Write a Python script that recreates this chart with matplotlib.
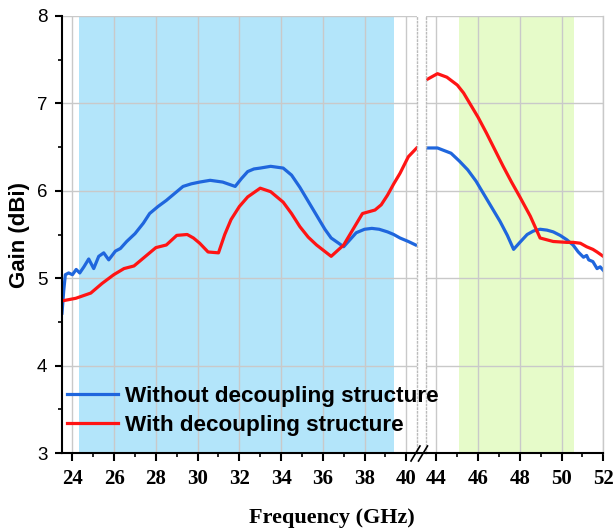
import matplotlib.pyplot as plt
from matplotlib.lines import Line2D
from matplotlib.ticker import MultipleLocator

# gain (dBi) vs frequency (GHz), split at the axis break
f_blue_lo = [23.5, 23.58, 23.66, 23.82, 24.0, 24.18, 24.35, 24.55, 24.78, 25.02, 25.26, 25.5,
             25.74, 26.06, 26.3, 26.6, 27.0, 27.4, 27.7, 28.1, 28.5, 28.9, 29.3, 29.7, 30.1,
             30.6, 31.2, 31.8, 32.1, 32.4, 32.7, 33.0, 33.5, 34.1, 34.5, 34.9, 35.3, 35.7,
             36.1, 36.4, 36.7, 37.0, 37.3, 37.6, 38.0, 38.35, 38.7, 39.1, 39.4, 39.7, 40.1, 40.45]
g_blue_lo = [4.6, 4.85, 5.04, 5.06, 5.04, 5.10, 5.06, 5.13, 5.22, 5.11, 5.25, 5.29,
             5.21, 5.31, 5.34, 5.42, 5.51, 5.63, 5.74, 5.82, 5.89, 5.97, 6.05, 6.08, 6.1,
             6.12, 6.1, 6.05, 6.14, 6.22, 6.25, 6.26, 6.28, 6.26, 6.18, 6.04, 5.88, 5.72,
             5.56, 5.46, 5.41, 5.36, 5.44, 5.52, 5.56, 5.57, 5.56, 5.53, 5.5, 5.46, 5.42, 5.38]

f_blue_hi = [43.55, 44.05, 44.7, 45.1, 45.5, 45.9, 46.25, 46.65, 47.05, 47.4, 47.7, 48.0,
             48.35, 48.65, 48.97, 49.3, 49.6, 49.93, 50.25, 50.55, 50.8, 51.05, 51.2, 51.3,
             51.5, 51.7, 51.85, 52.0]
g_blue_hi = [6.49, 6.49, 6.43, 6.34, 6.24, 6.11, 5.97, 5.81, 5.65, 5.49, 5.33, 5.41,
             5.5, 5.54, 5.56, 5.55, 5.53, 5.49, 5.44, 5.38, 5.3, 5.24, 5.26, 5.21,
             5.19, 5.11, 5.13, 5.09]

f_red_lo = [23.5, 24.16, 24.88, 25.42, 25.98, 26.47, 26.95, 27.4, 28.0, 28.5, 29.0, 29.5,
            29.8, 30.1, 30.5, 31.0, 31.3, 31.6, 32.0, 32.4, 33.0, 33.5, 34.1, 34.5, 34.9,
            35.3, 35.7, 36.4, 37.0, 37.5, 37.9, 38.5, 38.8, 39.1, 39.4, 39.7, 40.1, 40.5]
g_red_lo = [4.74, 4.77, 4.83, 4.94, 5.04, 5.11, 5.14, 5.23, 5.35, 5.38, 5.49, 5.5,
            5.46, 5.4, 5.3, 5.29, 5.5, 5.67, 5.82, 5.93, 6.03, 5.99, 5.87, 5.74, 5.59,
            5.47, 5.38, 5.25, 5.38, 5.58, 5.74, 5.78, 5.84, 5.95, 6.08, 6.2, 6.39, 6.49]

f_red_hi = [43.52, 44.05, 44.5, 45.0, 45.3, 45.6, 46.0, 46.4, 46.8, 47.2, 47.6, 48.0,
            48.5, 48.97, 49.6, 50.25, 50.56, 50.9, 51.2, 51.5, 51.7, 52.0]
g_red_hi = [7.27, 7.34, 7.3, 7.21, 7.12, 7.0, 6.84, 6.66, 6.47, 6.28, 6.1, 5.93,
            5.71, 5.46, 5.42, 5.41, 5.41, 5.4, 5.36, 5.33, 5.3, 5.25]

blue_band = (24.33, 39.4)
green_band = (45.1, 50.6)

W, H = 615, 532
blue_c = '#1f66dd'
red_c = '#ff1414'
grid_c = '#c9c9c9'
serif = 'Liberation Serif'
sans = 'Liberation Sans'

fig = plt.figure(figsize=(W / 100, H / 100), dpi=100)
ax1 = fig.add_axes([62 / W, 1 - 453 / H, (416.7 - 62) / W, (453 - 16) / H])
ax2 = fig.add_axes([426 / W, 1 - 453 / H, (603.3 - 426) / W, (453 - 16) / H])

ax1.axvspan(*blue_band, color='#b3e5fa', lw=0, zorder=0.2)
ax2.axvspan(*green_band, color='#e6fbc9', lw=0, zorder=0.2)

l1, = ax1.plot(f_blue_lo, g_blue_lo, color=blue_c, lw=2.3)
l2, = ax1.plot(f_red_lo, g_red_lo, color=red_c, lw=2.3)
ax2.plot(f_blue_hi, g_blue_hi, color=blue_c, lw=2.3)
ax2.plot(f_red_hi, g_red_hi, color=red_c, lw=2.3)

ax1.set_xlim(23.5, 40.5)
ax2.set_xlim(43.5, 52)
for ax in (ax1, ax2):
    ax.set_ylim(3, 8)
    ax.set_axisbelow(True)
    ax.yaxis.set_major_locator(MultipleLocator(1))
    ax.xaxis.set_major_locator(MultipleLocator(2))
    ax.xaxis.set_minor_locator(MultipleLocator(1))
    ax.grid(True, which='major', color=grid_c, lw=1)
    ax.spines['top'].set_visible(False)
    ax.spines['bottom'].set_linewidth(1.5)
    ax.tick_params(axis='x', which='major', direction='out', length=5.5, width=1.5, pad=6)
    ax.tick_params(axis='x', which='minor', direction='out', length=3, width=1.2)
    for t in ax.get_xticklabels():
        t.set_fontfamily(serif)
        t.set_fontweight('bold')
        t.set_fontsize(15)

ax1.yaxis.set_minor_locator(MultipleLocator(0.5))
ax1.spines['left'].set_linewidth(1.5)
ax1.spines['right'].set_linestyle(':')
ax1.spines['right'].set_color('#bbbbbb')
ax1.spines['right'].set_linewidth(1)
ax1.tick_params(axis='y', which='major', direction='out', length=5, width=1.5, pad=5.5)
ax1.tick_params(axis='y', which='minor', direction='out', length=3, width=1.2)
for t in ax1.get_yticklabels():
    t.set_fontfamily(sans)
    t.set_fontsize(13.5)

ax2.spines['left'].set_linestyle(':')
ax2.spines['left'].set_color('#bbbbbb')
ax2.spines['left'].set_linewidth(1)
ax2.spines['right'].set_color(grid_c)
ax2.spines['right'].set_linewidth(1)
ax2.tick_params(axis='y', which='both', length=0, labelleft=False)

ax1.set_ylabel('Gain (dBi)', fontfamily=sans, fontweight='bold', fontsize=16, labelpad=5)
fig.text(332 / W, 1 - 518 / H, 'Frequency (GHz)', fontfamily=serif, fontweight='bold',
         fontsize=16, ha='center', va='center')

# axis break: bottom line across the gap and the // marks
fig.add_artist(Line2D([416.7 / W, 426 / W], [1 - 453 / H] * 2, color='k', lw=1.5))
for x0 in (411, 418.5):
    fig.add_artist(Line2D([x0 / W, (x0 + 9) / W], [1 - 461 / H, 1 - 446 / H], color='k', lw=1.2))

fig.legend([l1, l2], ['Without decoupling structure', 'With decoupling structure'],
           loc='upper left', bbox_to_anchor=(67 / W, 1 - 386 / H),
           bbox_transform=fig.transFigure, frameon=False,
           prop={'family': sans, 'weight': 'bold', 'size': 16.2},
           handlelength=2.27, handletextpad=0.31, labelspacing=0.34,
           borderpad=0, borderaxespad=0)

fig.savefig('out.png', dpi=100)
